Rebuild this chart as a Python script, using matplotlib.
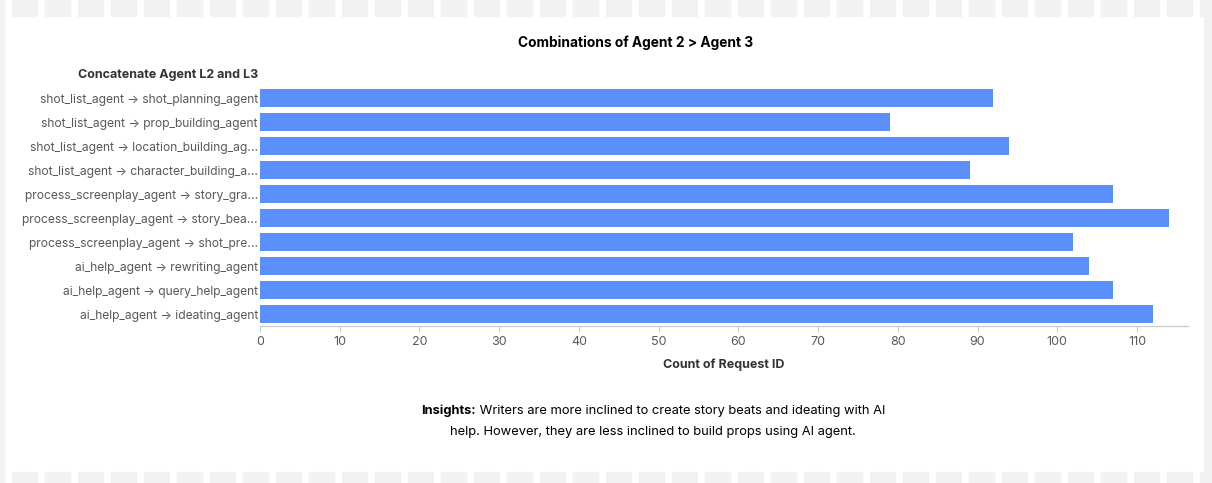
import matplotlib
matplotlib.use("Agg")
import matplotlib.pyplot as plt
from matplotlib.patches import Rectangle

plt.rcParams["font.family"] = ["Inter", "DejaVu Sans"]

# data
combos = [
    "shot_list_agent → shot_planning_agent",
    "shot_list_agent → prop_building_agent",
    "shot_list_agent → location_building_ag...",
    "shot_list_agent → character_building_a...",
    "process_screenplay_agent → story_gra...",
    "process_screenplay_agent → story_bea...",
    "process_screenplay_agent → shot_pre...",
    "ai_help_agent → rewriting_agent",
    "ai_help_agent → query_help_agent",
    "ai_help_agent → ideating_agent",
]
counts = [92, 79, 94, 89, 107, 114, 102, 104, 107, 112]
x_ticks = list(range(0, 111, 10))

W, H = 1212, 483
BAR = "#5B8FF9"
LABEL_GREY = "#595959"
AXIS_GREY = "#cccccc"
PANEL = "#f2f2f2"

fig = plt.figure(figsize=(W / 100, H / 100), dpi=100)
fig.patch.set_facecolor("white")


def px(x, y):
    """pixel coords (origin top-left) -> figure fraction"""
    return x / W, 1 - y / H


# dashed frame around the card
for x0 in range(12, W - 10, 33):
    for y0, h in ((0, 16), (472, 11)):
        fig.patches.append(Rectangle((x0 / W, 1 - (y0 + h) / H), 25 / W, h / H,
                                     transform=fig.transFigure, color=PANEL, zorder=0))
fig.patches.append(Rectangle((0, 0), 4 / W, 1, transform=fig.transFigure, color=PANEL, zorder=0))
fig.patches.append(Rectangle((1204 / W, 0), 8 / W, 1, transform=fig.transFigure, color=PANEL, zorder=0))

left, top = px(260, 86)
right, bottom = px(1188, 326)
ax = fig.add_axes([left, bottom, right - left, top - bottom])
ax.set_facecolor("none")

ypos = list(range(len(combos)))
ax.barh(ypos, counts, height=0.75, color=BAR)
ax.set_ylim(len(combos) - 0.5, -0.5)
ax.set_xlim(0, 116.4)

ax.set_yticks(ypos)
ax.set_yticklabels(combos)
ax.set_xticks(x_ticks)
ax.tick_params(axis="y", length=0, pad=1.5, labelsize=8.7, labelcolor=LABEL_GREY)
ax.tick_params(axis="x", length=4, width=0.8, color=AXIS_GREY, pad=3,
               labelsize=9, labelcolor=LABEL_GREY)

for side in ("top", "right", "left"):
    ax.spines[side].set_visible(False)
ax.spines["bottom"].set_color(AXIS_GREY)
ax.spines["bottom"].set_linewidth(1)

ax.set_xlabel("Count of Request ID", fontsize=9, fontweight="bold", color="#333333", labelpad=8)

fig.text(*px(258, 75), "Concatenate Agent L2 and L3", ha="right", va="center",
         fontsize=9, fontweight="bold", color="#333333")
fig.text(*px(636, 43), "Combinations of Agent 2 > Agent 3", ha="center", va="center",
         fontsize=9.9, fontweight="bold", color="black")

# insights note, bold lead-in followed by regular text
lead = fig.text(*px(421, 411), "Insights:", ha="left", va="center",
                fontsize=9.3, fontweight="bold", color="black")
ax.annotate(" Writers are more inclined to create story beats and ideating with AI",
            xy=(1, 0.5), xycoords=lead, ha="left", va="center",
            fontsize=9.3, color="black", annotation_clip=False)
fig.text(*px(653, 432), "help. However, they are less inclined to build props using AI agent.",
         ha="center", va="center", fontsize=9.3, color="black")

fig.savefig("out.png", dpi=100)
